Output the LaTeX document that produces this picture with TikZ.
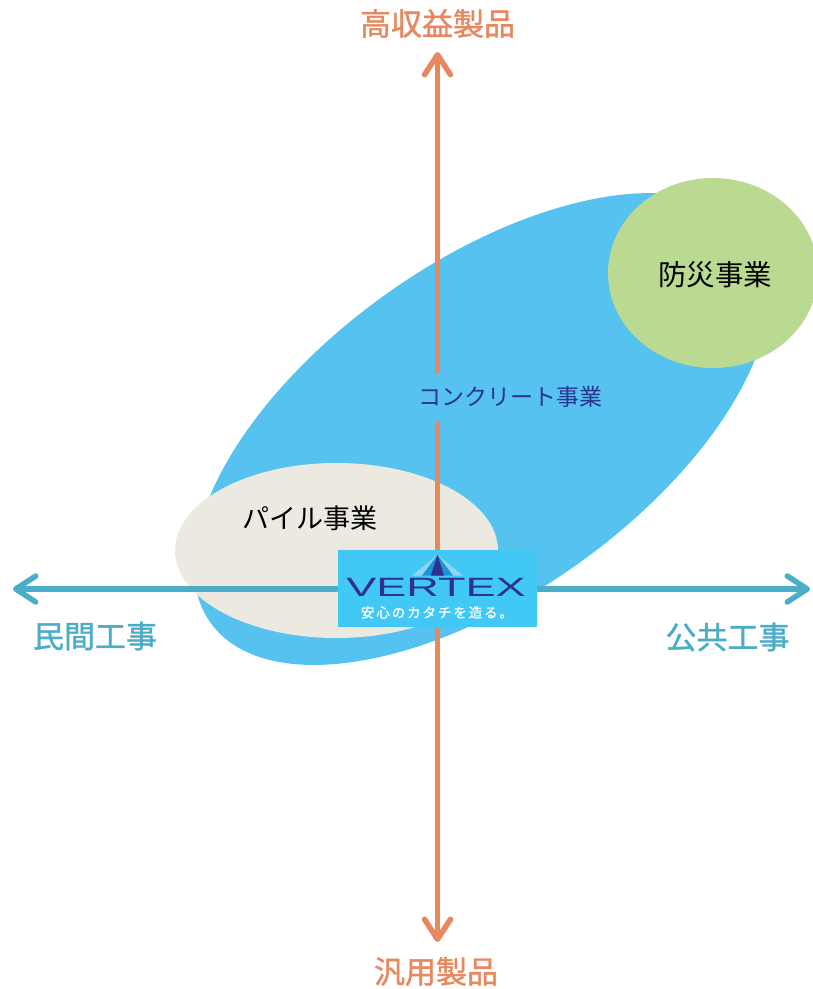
\documentclass[tikz,border=0pt]{standalone}
\usepackage{fontspec}
\setmainfont{Liberation Sans}
\newfontfamily\jp{Noto Sans CJK JP}
\newfontfamily\jpbold[FakeBold=1.2]{Noto Sans CJK JP}
\newfontfamily\jpsp[LetterSpace=14,FakeBold=0.8]{Noto Sans CJK JP}
\usetikzlibrary{arrows.meta,shapes.geometric}
\definecolor{ellblue}{HTML}{55C2EF}
\definecolor{bosaigreen}{HTML}{BBDA91}
\definecolor{pilebeige}{HTML}{ECEAE0}
\definecolor{axisorange}{HTML}{E8885E}
\definecolor{axisteal}{HTML}{4BADC8}
\definecolor{concretetext}{HTML}{2A3590}
\definecolor{logobg}{HTML}{42C8F5}
\definecolor{logonavy}{HTML}{2E3092}
\definecolor{logolight}{HTML}{8ED6F5}
\definecolor{logomid}{HTML}{1C93D3}
\begin{document}
\begin{tikzpicture}[x=1pt,y=-1pt,
  blob/.style={ellipse, inner sep=0pt, draw=none},
  axisarrow/.style={line width=5.5pt, {Straight Barb[length=20pt,width=26pt,round]}-{Straight Barb[length=20pt,width=26pt,round]}},
  jplabel/.style={font=\jpbold\fontsize{31}{36}\selectfont, inner sep=0pt},
  bizlabel/.style={inner sep=0pt}
]
\useasboundingbox (0,0) rectangle (813,989);
\clip (0,0) rectangle (813,989);
% ellipses
\node[blob, fill=ellblue, minimum width=667pt, minimum height=331pt, rotate=35.5] (concrete) at (482,429) {};
\node[blob, fill=bosaigreen, minimum width=210pt, minimum height=190pt] (bosai) at (713,273) {};
\node[blob, fill=pilebeige, minimum width=323pt, minimum height=175pt] (pile) at (336.5,550.5) {};
% axes
\coordinate (west) at (13,589);
\coordinate (east) at (810,589);
\coordinate (north) at (437.5,52);
\coordinate (south) at (437.5,942);
\draw[axisarrow, axisteal] (west) -- (east);
\draw[axisarrow, axisorange] (south) -- (north);
% business labels
\node[bizlabel, font=\jp\fontsize{28.5}{32}\selectfont, text=black] (bosaitext) at (715,275) {防災事業};
\node[bizlabel, font=\jp\fontsize{27}{30}\selectfont, text=black] (piletext) at (310,518.5) {パイル事業};
\node[font=\jp\fontsize{23}{26}\selectfont, text=concretetext, fill=ellblue, inner xsep=2pt, inner ysep=0pt, minimum height=47pt] (concretetextnode) at (510.5,397) {コンクリート事業};
% axis labels
\node[jplabel, text=axisorange] (high) at (437.5,23.5) {高収益製品};
\node[jplabel, text=axisorange] (general) at (436,971.5) {汎用製品};
\node[jplabel, text=axisteal] (private) at (95,636) {民間工事};
\node[jplabel, text=axisteal] (public) at (727.5,637) {公共工事};
% logo
\node[fill=logobg, minimum width=199pt, minimum height=77pt, inner sep=0pt] (logo) at (437.5,588.5) {};
\fill[logolight] (412,575.5) -- (437.5,555) -- (463,575.5) -- cycle;
\fill[logomid] (422,575.5) -- (437.5,555) -- (453,575.5) -- cycle;
\fill[logonavy] (431,575.5) -- (437.5,555) -- (444,575.5) -- cycle;
\node[inner sep=0pt, text=logonavy, font=\fontsize{26.5}{28}\selectfont] (vertex) at (436,587.5) {\scalebox{1.7}[1]{VERTEX}};
\node[inner sep=0pt, text=white, font=\jpsp\fontsize{13.5}{15}\selectfont] (tagline) at (437,612.5) {安心のカタチを造る。};
\end{tikzpicture}
\end{document}
